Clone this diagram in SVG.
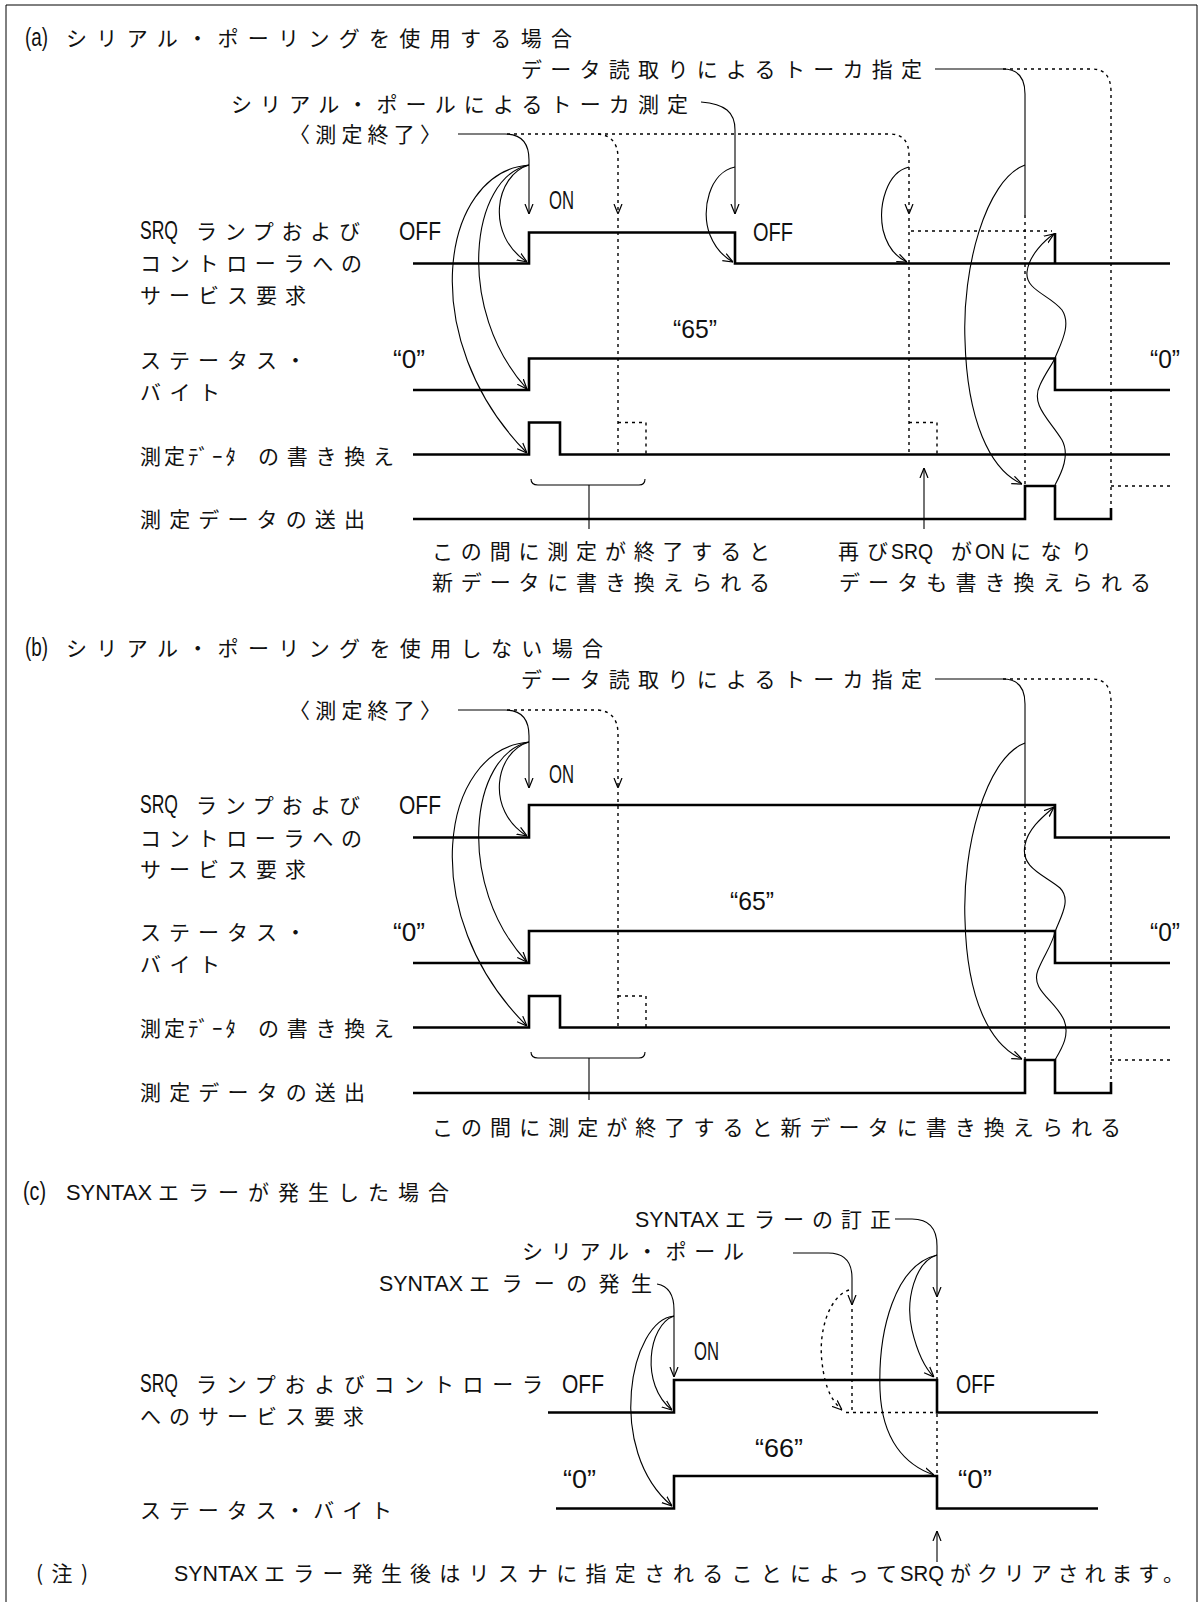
<svg xmlns="http://www.w3.org/2000/svg" width="1200" height="1602" viewBox="0 0 1200 1602">
<style>
.t{font-family:"Noto Sans CJK JP","Noto Sans CJK SC",sans-serif;font-size:21px;fill:#111}
.l{font-family:"Liberation Sans",sans-serif;font-size:25px;fill:#111}
.m{font-family:"Liberation Sans",sans-serif;font-size:22px;fill:#111}
.w{fill:none;stroke:#000;stroke-width:2.6}
.c{fill:none;stroke:#000;stroke-width:1.1}
.d{fill:none;stroke:#000;stroke-width:1.4;stroke-dasharray:3 4}
.f{fill:none;stroke:#000;stroke-width:1}
</style>
<defs>
<marker id="ah" viewBox="0 0 10 10" refX="10" refY="5" markerWidth="10" markerHeight="10" markerUnits="userSpaceOnUse" orient="auto"><path d="M0,1 L10,5 L0,9" fill="none" stroke="#000" stroke-width="1.2"/></marker>
</defs>
<rect width="1200" height="1602" fill="#fff"/>
<g id="frame"><path class="f" d="M6,1602 V5 H1197 V1602"/></g>

<!-- ===== (a) ===== -->
<g id="a-title"><text class="t" y="46"><tspan class="l" x="25" textLength="23" lengthAdjust="spacingAndGlyphs">(a)</tspan><tspan x="66" textLength="506" lengthAdjust="spacing">シリアル・ポーリングを使用する場合</tspan></text></g>
<g id="a-talker-read"><text class="t" x="521" y="77" textLength="401" lengthAdjust="spacing">データ読取りによるトーカ指定</text></g>
<g id="a-serial-poll"><text class="t" x="231" y="112" textLength="457" lengthAdjust="spacing">シリアル・ポールによるトーカ測定</text></g>
<g id="a-meas-end"><text class="t" x="289" y="142" textLength="152" lengthAdjust="spacing">〈測定終了〉</text></g>
<g id="a-on"><text class="l" x="549" y="209" textLength="25" lengthAdjust="spacingAndGlyphs">ON</text></g>
<g id="a-srq-label"><text class="t" y="239"><tspan class="l" x="140" textLength="38" lengthAdjust="spacingAndGlyphs">SRQ</tspan><tspan x="196" textLength="164" lengthAdjust="spacing">ランプおよび</tspan></text><text class="t" x="140" y="271" textLength="222" lengthAdjust="spacing">コントローラへの</text><text class="t" x="140" y="303" textLength="166" lengthAdjust="spacing">サービス要求</text></g>
<g id="a-off1"><text class="l" x="399" y="240" textLength="42" lengthAdjust="spacingAndGlyphs">OFF</text></g>
<g id="a-off2"><text class="l" x="753" y="241" textLength="40" lengthAdjust="spacingAndGlyphs">OFF</text></g>
<g id="a-65"><text class="l" x="673" y="338" textLength="44" lengthAdjust="spacingAndGlyphs">“65”</text></g>
<g id="a-status-label"><text class="t" x="140" y="368" textLength="166" lengthAdjust="spacing">ステータス・</text><text class="t" x="140" y="400" textLength="80" lengthAdjust="spacing">バイト</text></g>
<g id="a-zero1"><text class="l" x="393" y="368" textLength="32" lengthAdjust="spacingAndGlyphs">“0”</text></g>
<g id="a-zero2"><text class="l" x="1150" y="368" textLength="30" lengthAdjust="spacingAndGlyphs">“0”</text></g>
<g id="a-rewrite-label"><text class="t" y="464"><tspan x="140" textLength="96" lengthAdjust="spacing">測定ﾃﾞｰﾀ</tspan><tspan x="258" textLength="136" lengthAdjust="spacing">の書き換え</tspan></text></g>
<g id="a-send-label"><text class="t" x="140" y="527" textLength="225" lengthAdjust="spacing">測定データの送出</text></g>
<g id="a-note1"><text class="t" x="432" y="559" textLength="338" lengthAdjust="spacing">この間に測定が終了すると</text><text class="t" x="432" y="590" textLength="338" lengthAdjust="spacing">新データに書き換えられる</text></g>
<g id="a-note2"><text class="t" y="559"><tspan x="838" textLength="50" lengthAdjust="spacing">再び</tspan><tspan class="m" x="891" textLength="42" lengthAdjust="spacingAndGlyphs">SRQ</tspan><tspan x="951" textLength="21" lengthAdjust="spacing">が</tspan><tspan class="m" x="975" textLength="30" lengthAdjust="spacingAndGlyphs">ON</tspan><tspan x="1010" textLength="82" lengthAdjust="spacing">になり</tspan></text><text class="t" x="839" y="590" textLength="312" lengthAdjust="spacing">データも書き換えられる</text></g>

<g id="a-waves">
<path class="w" d="M413,263.5 H529 V232.5 H735 V263.5 H1170"/>
<path class="w" d="M1055,263.5 V233"/>
<path class="w" d="M413,390 H529 V358.5 H1055 V390 H1170"/>
<path class="w" d="M413,454.5 H529 V422.5 H560 V454.5 H1170"/>
<path class="w" d="M413,519 H1025 V486 H1055 V519 H1111 V508"/>
</g>

<!-- ===== (b) ===== -->
<g id="b-title"><text class="t" y="656"><tspan class="l" x="25" textLength="23" lengthAdjust="spacingAndGlyphs">(b)</tspan><tspan x="66" textLength="537" lengthAdjust="spacing">シリアル・ポーリングを使用しない場合</tspan></text></g>
<g id="b-talker-read"><text class="t" x="521" y="687" textLength="401" lengthAdjust="spacing">データ読取りによるトーカ指定</text></g>
<g id="b-meas-end"><text class="t" x="289" y="718" textLength="152" lengthAdjust="spacing">〈測定終了〉</text></g>
<g id="b-on"><text class="l" x="549" y="783" textLength="25" lengthAdjust="spacingAndGlyphs">ON</text></g>
<g id="b-srq-label"><text class="t" y="813"><tspan class="l" x="140" textLength="38" lengthAdjust="spacingAndGlyphs">SRQ</tspan><tspan x="196" textLength="164" lengthAdjust="spacing">ランプおよび</tspan></text><text class="t" x="140" y="846" textLength="222" lengthAdjust="spacing">コントローラへの</text><text class="t" x="140" y="877" textLength="166" lengthAdjust="spacing">サービス要求</text></g>
<g id="b-off1"><text class="l" x="399" y="814" textLength="42" lengthAdjust="spacingAndGlyphs">OFF</text></g>
<g id="b-65"><text class="l" x="730" y="910" textLength="44" lengthAdjust="spacingAndGlyphs">“65”</text></g>
<g id="b-status-label"><text class="t" x="140" y="940" textLength="166" lengthAdjust="spacing">ステータス・</text><text class="t" x="140" y="972" textLength="80" lengthAdjust="spacing">バイト</text></g>
<g id="b-zero1"><text class="l" x="393" y="941" textLength="32" lengthAdjust="spacingAndGlyphs">“0”</text></g>
<g id="b-zero2"><text class="l" x="1150" y="941" textLength="30" lengthAdjust="spacingAndGlyphs">“0”</text></g>
<g id="b-rewrite-label"><text class="t" y="1036"><tspan x="140" textLength="96" lengthAdjust="spacing">測定ﾃﾞｰﾀ</tspan><tspan x="258" textLength="136" lengthAdjust="spacing">の書き換え</tspan></text></g>
<g id="b-send-label"><text class="t" x="140" y="1100" textLength="225" lengthAdjust="spacing">測定データの送出</text></g>
<g id="b-note"><text class="t" x="432" y="1135" textLength="689" lengthAdjust="spacing">この間に測定が終了すると新データに書き換えられる</text></g>

<g id="b-waves">
<path class="w" d="M413,837.5 H529 V805 H1055 V837.5 H1170"/>
<path class="w" d="M413,963 H529 V931 H1055 V963 H1170"/>
<path class="w" d="M413,1027.5 H529 V996 H560 V1027.5 H1170"/>
<path class="w" d="M413,1093 H1025 V1060 H1055 V1093 H1111 V1082"/>
</g>

<!-- ===== (c) ===== -->
<g id="c-title"><text class="t" y="1200"><tspan class="l" x="23" textLength="23" lengthAdjust="spacingAndGlyphs">(c)</tspan><tspan class="m" x="66" textLength="86" lengthAdjust="spacingAndGlyphs">SYNTAX</tspan><tspan x="158" textLength="291" lengthAdjust="spacing">エラーが発生した場合</tspan></text></g>
<g id="c-correct"><text class="t" y="1227"><tspan class="m" x="635" textLength="84" lengthAdjust="spacingAndGlyphs">SYNTAX</tspan><tspan x="725" textLength="166" lengthAdjust="spacing">エラーの訂正</tspan></text></g>
<g id="c-serial-poll"><text class="t" x="522" y="1259" textLength="222" lengthAdjust="spacing">シリアル・ポール</text></g>
<g id="c-occur"><text class="t" y="1291"><tspan class="m" x="379" textLength="84" lengthAdjust="spacingAndGlyphs">SYNTAX</tspan><tspan x="469" textLength="183" lengthAdjust="spacing">エラーの発生</tspan></text></g>
<g id="c-on"><text class="l" x="694" y="1360" textLength="25" lengthAdjust="spacingAndGlyphs">ON</text></g>
<g id="c-srq-label"><text class="t" y="1392"><tspan class="l" x="140" textLength="38" lengthAdjust="spacingAndGlyphs">SRQ</tspan><tspan x="196" textLength="347" lengthAdjust="spacing">ランプおよびコントローラ</tspan></text><text class="t" x="140" y="1424" textLength="224" lengthAdjust="spacing">へのサービス要求</text></g>
<g id="c-off1"><text class="l" x="562" y="1393" textLength="42" lengthAdjust="spacingAndGlyphs">OFF</text></g>
<g id="c-off2"><text class="l" x="956" y="1393" textLength="39" lengthAdjust="spacingAndGlyphs">OFF</text></g>
<g id="c-66"><text class="l" x="755" y="1457" textLength="48" lengthAdjust="spacingAndGlyphs">“66”</text></g>
<g id="c-zero1"><text class="l" x="563" y="1488" textLength="33" lengthAdjust="spacingAndGlyphs">“0”</text></g>
<g id="c-zero2"><text class="l" x="958" y="1488" textLength="34" lengthAdjust="spacingAndGlyphs">“0”</text></g>
<g id="c-status-label"><text class="t" x="140" y="1518" textLength="252" lengthAdjust="spacing">ステータス・バイト</text></g>
<g id="c-footnote"><text class="t" y="1581"><tspan x="36" textLength="52" lengthAdjust="spacing">(注)</tspan><tspan class="m" x="174" textLength="84" lengthAdjust="spacingAndGlyphs">SYNTAX</tspan><tspan x="264" textLength="633" lengthAdjust="spacing">エラー発生後はリスナに指定されることによって</tspan><tspan class="m" x="900" textLength="44" lengthAdjust="spacingAndGlyphs">SRQ</tspan><tspan x="950" textLength="234" lengthAdjust="spacing">がクリアされます。</tspan></text></g>

<g id="c-waves">
<path class="w" d="M548,1412.5 H674 V1380 H937 V1412.5 H1098"/>
<path class="w" d="M556,1508.5 H674 V1476 H937 V1508.5 H1098"/>
</g>

<!-- ===== connectors ===== -->
<g id="connectors">
<!-- (a) -->
<path class="c" marker-end="url(#ah)" d="M458,134 H505 Q529,134 529,160 V214"/>
<path class="c" marker-end="url(#ah)" d="M529,165 C495,175 485,235 527,262"/>
<path class="c" marker-end="url(#ah)" d="M529,165 C470,177 455,310 527,389"/>
<path class="c" marker-end="url(#ah)" d="M529,165 C440,172 415,340 527,453"/>
<path class="d" marker-end="url(#ah)" d="M507,134 H890 Q909,134 909,156 V214"/>
<path class="d" marker-end="url(#ah)" d="M598,134 Q618,136 618,158 V214"/>
<path class="d" d="M618,218 V454 M618,422.5 H646 V454"/>
<path class="d" d="M909,218 V454 M909,422.5 H937 V454"/>
<path class="c" marker-end="url(#ah)" d="M701,102 C725,104 735,112 735,130 V214"/>
<path class="c" marker-end="url(#ah)" d="M735,167 C710,172 700,210 710,235 C716,250 724,257 733,262"/>
<path class="c" marker-end="url(#ah)" d="M909,167 C887,172 878,205 883,230 C888,250 898,258 907,262"/>
<path class="d" d="M911,231 H1052"/>
<path class="c" d="M935,69 H1003 Q1025,69 1025,94 V215"/>
<path class="d" d="M1025,215 V485"/>
<path class="c" marker-end="url(#ah)" d="M1025,165 C985,180 962,270 965,340 C967,420 990,470 1022,484"/>
<path class="d" d="M1003,69 H1092 Q1111,69 1111,92 V508 M1111,486 H1170"/>
<path class="c" marker-end="url(#ah)" d="M1055,485 C1062,472 1070,455 1062,440 C1050,420 1030,405 1040,385 C1046,372 1052,365 1055,358 C1060,345 1072,325 1062,310 C1050,295 1025,290 1027,272 C1029,255 1045,240 1054,234"/>
<path class="c" d="M531,479 Q531,485 538,485 H639 Q645,485 645,479 M589,485 V529"/>
<path class="c" marker-end="url(#ah)" d="M924,529 V468"/>
<!-- (b) -->
<path class="c" marker-end="url(#ah)" d="M458,710 H505 Q529,710 529,736 V788"/>
<path class="c" marker-end="url(#ah)" d="M529,742 C495,752 485,810 527,836"/>
<path class="c" marker-end="url(#ah)" d="M529,742 C470,754 455,885 527,962"/>
<path class="c" marker-end="url(#ah)" d="M529,742 C440,749 415,915 527,1026"/>
<path class="d" marker-end="url(#ah)" d="M507,710 H598 Q618,712 618,734 V788"/>
<path class="d" d="M618,792 V1027 M618,996 H646 V1027"/>
<path class="c" d="M935,679 H1003 Q1025,679 1025,704 V805"/>
<path class="d" d="M1025,805 V1060"/>
<path class="c" marker-end="url(#ah)" d="M1025,743 C985,758 962,850 965,920 C967,1000 990,1045 1022,1059"/>
<path class="d" d="M1003,679 H1092 Q1111,679 1111,702 V1082 M1111,1060 H1170"/>
<path class="c" marker-end="url(#ah)" d="M1055,1060 C1062,1048 1070,1035 1064,1020 C1055,1000 1030,990 1038,970 C1044,955 1052,945 1055,932 C1060,918 1072,900 1060,888 C1045,875 1020,868 1025,845 C1028,828 1045,815 1054,807"/>
<path class="c" d="M531,1052 Q531,1058 538,1058 H639 Q645,1058 645,1052 M589,1058 V1100"/>
<!-- (c) -->
<path class="c" marker-end="url(#ah)" d="M657,1284 Q674,1287 674,1310 V1377"/>
<path class="c" marker-end="url(#ah)" d="M674,1316 C648,1325 640,1385 672,1410"/>
<path class="c" marker-end="url(#ah)" d="M674,1316 C630,1320 605,1450 672,1506"/>
<path class="c" marker-end="url(#ah)" d="M793,1253 H828 Q852,1253 852,1278 V1305"/>
<path class="d" d="M852,1309 V1412"/>
<path class="d" marker-end="url(#ah)" d="M849,1290 C830,1296 818,1330 822,1362 C825,1390 833,1402 842,1410"/>
<path class="d" d="M846,1412.5 H935"/>
<path class="c" marker-end="url(#ah)" d="M895,1219 H912 Q937,1219 937,1246 V1297"/>
<path class="d" d="M937,1300 V1380 M937,1414 V1476"/>
<path class="c" marker-end="url(#ah)" d="M937,1255 C915,1262 905,1300 912,1330 C918,1355 925,1368 934,1377"/>
<path class="c" marker-end="url(#ah)" d="M937,1255 C895,1265 878,1330 880,1390 C882,1440 905,1465 934,1475"/>
<path class="c" marker-end="url(#ah)" d="M937,1562 V1531"/>
</g>
</svg>
